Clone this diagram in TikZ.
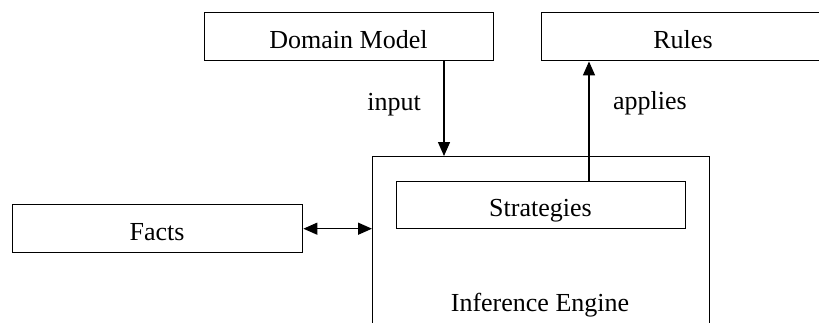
\documentclass[tikz,border=0pt]{standalone}
\usepackage{fontspec}
\setmainfont{Liberation Serif}
\usetikzlibrary{arrows.meta}
\begin{document}
\begin{tikzpicture}[x=1pt,y=-1pt,
  box/.style={draw,line width=1.4pt,inner sep=0pt,anchor=north west},
  lbl/.style={font=\fontsize{26}{30}\selectfont,inner sep=0pt,anchor=base},
  conn/.style={line width=1.4pt,-{Triangle[length=14pt,width=12pt]}},
  dconn/.style={line width=1.4pt,{Triangle[length=14pt,width=12pt]}-{Triangle[length=14pt,width=12pt]}}]
\useasboundingbox (0,0) rectangle (819,322);
\clip (0,0) rectangle (819,322);
\node[box,minimum width=289pt,minimum height=48pt] (dm) at (204,12) {};
\node[lbl] (dmt) at (348.5,48) {Domain Model};
\node[box,minimum width=284pt,minimum height=48pt] (ru) at (541,12) {};
\node[lbl] (rut) at (683,48) {Rules};
\node[box,minimum width=290pt,minimum height=48pt] (fa) at (12,204) {};
\node[lbl] (fat) at (157,240.5) {Facts};
\node[box,minimum width=337pt,minimum height=200pt] (ie) at (372,156) {};
\node[lbl] (iet) at (540,311) {Inference Engine};
\node[box,minimum width=289pt,minimum height=47pt] (st) at (396,181) {};
\node[lbl] (stt) at (540.5,216) {Strategies};
\node[lbl] (inp) at (394,110) {input};
\node[lbl] (app) at (650,109) {applies};
\coordinate (inx) at (444,0);
\coordinate (apx) at (589,0);
\draw[conn] (dm.south -| inx) -- (ie.north -| inx);
\draw[conn] (st.north -| apx) -- (ru.south -| apx);
\draw[dconn] (fa.east) -- (fa.east -| ie.west);
\end{tikzpicture}
\end{document}
